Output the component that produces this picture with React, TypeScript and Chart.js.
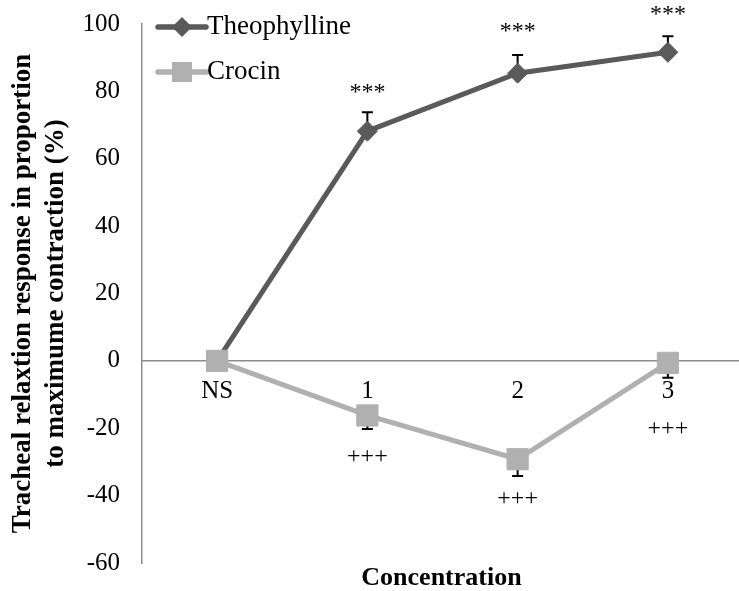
import { useEffect, useRef } from "react";
import { Chart, registerables } from "chart.js";

Chart.register(...registerables);

const categories = ["NS", "1", "2", "3"];
const theophylline = [0, 68.2, 85.4, 91.6];
const theophyllineErr = [0, 5.6, 5.4, 4.8];
const crocin = [0, -16.2, -29.2, -0.6];
const crocinErr = [0, 4, 5, 4.4];
// significance marks and the value they sit at
const starMarks = ["", "***", "***", "***"];
const starAt = [0, 79.5, 97.6, 102.7];
const plusMarks = ["", "+++", "+++", "+++"];
const plusAt = [0, -28.3, -40.8, -20.2];

const SERIF = '"Liberation Serif", "Times New Roman", serif';
const DARK = "#5a5a5a";
const LIGHT = "#b0b0b0";

const errorBars = {
  id: "errorBars",
  beforeDatasetsDraw(chart: any) {
    const { ctx, scales } = chart;
    const x = scales.x;
    const y = scales.y;
    const sets = [
      { values: theophylline, errs: theophyllineErr, dir: 1 },
      { values: crocin, errs: crocinErr, dir: -1 },
    ];
    ctx.save();
    ctx.strokeStyle = "#000";
    ctx.lineWidth = 2;
    sets.forEach((s) => {
      s.values.forEach((v, i) => {
        if (!s.errs[i]) return;
        const px = x.getPixelForValue(i);
        const y0 = y.getPixelForValue(v);
        const y1 = y.getPixelForValue(v + s.dir * s.errs[i]);
        ctx.beginPath();
        ctx.moveTo(px, y0);
        ctx.lineTo(px, y1);
        ctx.moveTo(px - 5.5, y1);
        ctx.lineTo(px + 5.5, y1);
        ctx.stroke();
      });
    });
    ctx.restore();
  },
};

const extras = {
  id: "extras",
  afterDraw(chart: any) {
    const { ctx, scales, chartArea } = chart;
    const x = scales.x;
    const y = scales.y;
    ctx.save();
    ctx.fillStyle = "#000";
    ctx.textAlign = "center";
    ctx.textBaseline = "middle";
    ctx.font = `24px ${SERIF}`;
    categories.forEach((_, i) => {
      const px = x.getPixelForValue(i);
      if (starMarks[i]) ctx.fillText(starMarks[i], px, y.getPixelForValue(starAt[i]));
      if (plusMarks[i]) ctx.fillText(plusMarks[i], px, y.getPixelForValue(plusAt[i]));
    });

    // x axis title
    ctx.font = `bold 26px ${SERIF}`;
    ctx.fillText("Concentration", (chartArea.left + chartArea.right) / 2 - 1, 578);

    // legend
    const items = [
      { label: "Theophylline", color: DARK, style: "diamond", yPos: 27 },
      { label: "Crocin", color: LIGHT, style: "square", yPos: 72 },
    ];
    items.forEach((it) => {
      ctx.strokeStyle = it.color;
      ctx.fillStyle = it.color;
      ctx.lineWidth = 5.5;
      ctx.lineCap = "round";
      ctx.beginPath();
      ctx.moveTo(158, it.yPos);
      ctx.lineTo(206, it.yPos);
      ctx.stroke();
      ctx.beginPath();
      if (it.style === "diamond") {
        ctx.moveTo(182, it.yPos - 10);
        ctx.lineTo(192, it.yPos);
        ctx.lineTo(182, it.yPos + 10);
        ctx.lineTo(172, it.yPos);
        ctx.closePath();
        ctx.fill();
      } else {
        ctx.fillRect(172, it.yPos - 10, 20, 20);
      }
      ctx.fillStyle = "#000";
      ctx.textAlign = "left";
      ctx.font = `27px ${SERIF}`;
      ctx.fillText(it.label, 207, it.yPos);
    });
    ctx.restore();
  },
};

export default function App() {
  const canvasRef = useRef<HTMLCanvasElement>(null);

  useEffect(() => {
    document.body.style.margin = "0";
    document.body.style.overflow = "hidden";
    if (!canvasRef.current) return;

    const chart = new Chart(canvasRef.current, {
      type: "line",
      data: {
        labels: categories,
        datasets: [
          {
            label: "Theophylline",
            data: theophylline,
            borderColor: DARK,
            backgroundColor: DARK,
            borderWidth: 5,
            pointStyle: "rectRot",
            pointRadius: 10,
            pointBorderWidth: 1,
            tension: 0,
            clip: false,
            order: 1,
          },
          {
            label: "Crocin",
            data: crocin,
            borderColor: LIGHT,
            backgroundColor: LIGHT,
            borderWidth: 5,
            pointStyle: "rect",
            pointRadius: 15,
            pointBorderWidth: 1,
            tension: 0,
            clip: false,
            order: 0,
          },
        ],
      },
      options: {
        animation: false,
        responsive: true,
        maintainAspectRatio: false,
        layout: { padding: { top: 24, right: 0, bottom: 28, left: 0 } },
        plugins: {
          legend: { display: false },
          tooltip: { enabled: false },
        },
        scales: {
          x: {
            type: "category",
            position: { y: 0 } as any,
            offset: true,
            grid: { display: false, drawTicks: false },
            border: { display: true, color: "#8c8c8c", width: 1.5 },
            ticks: { color: "#000", font: { family: SERIF, size: 25 }, padding: 16 },
            afterFit(scale: any) {
              scale.paddingLeft = 0;
              scale.paddingRight = 0;
            },
          },
          y: {
            min: -60,
            max: 100,
            grid: { display: false, drawTicks: false },
            border: { display: true, color: "#8c8c8c", width: 1.5 },
            ticks: { stepSize: 20, color: "#000", font: { family: SERIF, size: 25 }, padding: 22 },
            title: {
              display: true,
              text: ["Tracheal relaxtion response in proportion", "to maximume contraction (%)"],
              color: "#000",
              font: { family: SERIF, size: 27, weight: "bold", lineHeight: 1.2 },
              padding: { top: 7, bottom: 0 },
            },
            afterFit(scale: any) {
              scale.width = 142;
              scale.paddingTop = 0;
              scale.paddingBottom = 0;
            },
          },
        },
      },
      plugins: [errorBars, extras],
    });

    return () => chart.destroy();
  }, []);

  return (
    <div style={{ width: 739, height: 591, overflow: "hidden" }}>
      <div style={{ width: 759, height: 591, position: "relative" }}>
        <canvas ref={canvasRef} />
      </div>
    </div>
  );
}
